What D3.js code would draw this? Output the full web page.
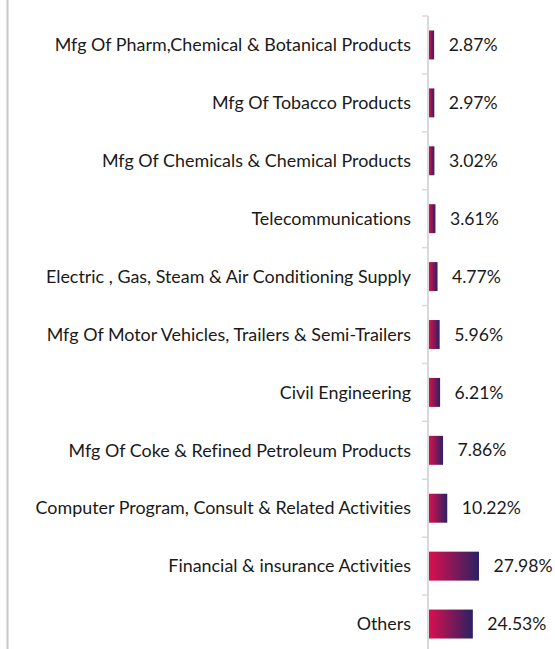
<!DOCTYPE html>
<html lang="en">
<head>
<meta charset="utf-8">
<script src="https://cdn.jsdelivr.net/npm/d3@7"></script>
<style>
  body { margin: 0; background: #fff; }
  text { font-family: Lato, sans-serif; font-size: 17.6px; fill: #1a1a1a; font-variant-ligatures: none; }
  text.cat { font-size: 17.9px; }
</style>
</head>
<body>
<svg width="555" height="649"></svg>
<script>
  // sector names, top to bottom
  const sectors = [
    'Mfg Of Pharm,Chemical & Botanical Products',
    'Mfg Of Tobacco Products',
    'Mfg Of Chemicals & Chemical Products',
    'Telecommunications',
    'Electric , Gas, Steam & Air Conditioning Supply',
    'Mfg Of Motor Vehicles, Trailers & Semi-Trailers',
    'Civil Engineering',
    'Mfg Of Coke & Refined Petroleum Products',
    'Computer Program, Consult & Related Activities',
    'Financial & insurance Activities',
    'Others'
  ];
  const shares = [2.87, 2.97, 3.02, 3.61, 4.77, 5.96, 6.21, 7.86, 10.22, 27.98, 24.53];
  const valueLabels = ['2.87%', '2.97%', '3.02%', '3.61%', '4.77%', '5.96%', '6.21%', '7.86%', '10.22%', '27.98%', '24.53%'];

  const svg = d3.select('svg');
  const axisX = 428;
  const plotTop = 16;

  // left frame line
  svg.append('line')
    .attr('x1', 7.5).attr('x2', 7.5)
    .attr('y1', 0).attr('y2', 649)
    .attr('stroke', '#c8c8c8').attr('stroke-width', 2);

  const grad = svg.append('defs').append('linearGradient')
    .attr('id', 'barGrad')
    .attr('x1', '0%').attr('x2', '100%').attr('y1', '0%').attr('y2', '0%');
  grad.append('stop').attr('offset', '0%').attr('stop-color', '#d9104e');
  grad.append('stop').attr('offset', '100%').attr('stop-color', '#2b2162');

  const y = d3.scaleBand()
    .domain(sectors)
    .range([plotTop, 653])
    .paddingInner(0.5)
    .paddingOuter(0.25);

  const x = d3.scaleLinear()
    .domain([0, 27.98])
    .range([0, 50]);

  const step = y.step();

  // axis line with ticks between categories
  const g = svg.append('g');
  g.append('line')
    .attr('x1', axisX).attr('x2', axisX)
    .attr('y1', plotTop).attr('y2', 649)
    .attr('stroke', '#d9d9d9').attr('stroke-width', 2);
  g.selectAll('line.tick')
    .data(d3.range(sectors.length + 1))
    .join('line')
    .attr('class', 'tick')
    .attr('x1', axisX - 6).attr('x2', axisX)
    .attr('y1', i => plotTop + i * step)
    .attr('y2', i => plotTop + i * step)
    .attr('stroke', '#d9d9d9').attr('stroke-width', 1.5);

  const rows = sectors.map((s, i) => ({ s, v: shares[i], lab: valueLabels[i] }));

  svg.selectAll('rect.bar')
    .data(rows)
    .join('rect')
    .attr('class', 'bar')
    .attr('x', axisX + 1)
    .attr('y', d => y(d.s))
    .attr('width', d => x(d.v))
    .attr('height', y.bandwidth())
    .attr('fill', 'url(#barGrad)');

  svg.selectAll('text.cat')
    .data(rows)
    .join('text')
    .attr('class', 'cat')
    .attr('x', 411)
    .attr('y', d => y(d.s) + y.bandwidth() / 2)
    .attr('dy', '0.35em')
    .attr('text-anchor', 'end')
    .text(d => d.s);

  svg.selectAll('text.val')
    .data(rows)
    .join('text')
    .attr('class', 'val')
    .attr('x', d => axisX + 1 + x(d.v) + 14.5)
    .attr('y', d => y(d.s) + y.bandwidth() / 2)
    .attr('dy', '0.35em')
    .text(d => d.lab);
</script>
</body>
</html>
